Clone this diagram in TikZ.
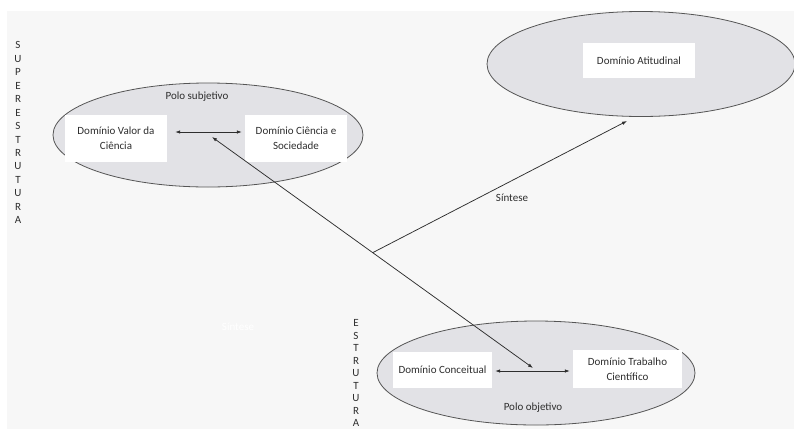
\documentclass[tikz,border=0pt]{standalone}
\usepackage{fontspec}
\setmainfont{Carlito}
\usetikzlibrary{shapes.geometric,arrows.meta}
\definecolor{pagebg}{HTML}{F7F7F7}
\definecolor{polefill}{HTML}{E2E2E6}
\definecolor{ink}{HTML}{2E2E2E}
\definecolor{rim}{HTML}{555555}
\tikzset{
  polebox/.style={ellipse, draw=rim, line width=0.8pt, fill=polefill, inner sep=0pt},
  domainbox/.style={fill=white, draw=none, align=center, inner sep=0pt,
    font=\fontsize{11}{15}\selectfont, text=ink},
  tagtext/.style={font=\fontsize{11}{13}\selectfont, text=ink, inner sep=0pt},
  linkline/.style={draw=ink, line width=0.75pt, {Latex[length=5pt,width=3.5pt]}-{Latex[length=5pt,width=3.5pt]}},
  flowline/.style={draw=ink, line width=0.75pt, -{Latex[length=5pt,width=3.5pt]}},
  vertcap/.style={align=center, inner sep=0pt, anchor=north, text=ink}
}
\begin{document}
\begin{tikzpicture}[x=1pt,y=-1pt]
\useasboundingbox (0,0) rectangle (794,429);
\fill[white] (0,0) rectangle (794,429);
\fill[pagebg] (7,11) rectangle (794,429);

% the three poles
\node[polebox, minimum width=310pt, minimum height=104pt] (subj) at (208,135) {};
\node[polebox, minimum width=308pt, minimum height=105pt] (atit) at (641,64) {};
\node[polebox, minimum width=318pt, minimum height=104pt] (obj) at (536,373) {};

% domains
\node[domainbox, minimum width=102pt, minimum height=47pt] (valor) at (116,138.5) {Domínio Valor da\\Ciência};
\node[domainbox, minimum width=102pt, minimum height=47pt] (socied) at (296,138.5) {Domínio Ciência e\\Sociedade};
\node[domainbox, minimum width=112pt, minimum height=35pt] (atitud) at (639,60.5) {Domínio Atitudinal};
\node[domainbox, minimum width=99pt, minimum height=36pt] (conc) at (442.5,370) {Domínio Conceitual};
\node[domainbox, minimum width=109pt, minimum height=38pt] (trab) at (627.5,369) {Domínio Trabalho\\Científico};

% pole titles
\node[tagtext] (tsubj) at (197,97) {Polo subjetivo};
\node[tagtext] (tobj) at (533,408) {Polo objetivo};
\node[tagtext] (tsint) at (512,198) {Síntese};
\node[tagtext, text=white] (tghost) at (238,327) {Síntese};

% vertical captions
\node[vertcap, font=\fontsize{11}{13.46}\selectfont] (super) at (18,41.5)
  {S\\U\\P\\E\\R\\E\\S\\T\\R\\U\\T\\U\\R\\A};
\node[vertcap, font=\fontsize{11}{12.5}\selectfont] (estr) at (356,319.5)
  {E\\S\\T\\R\\U\\T\\U\\R\\A};

% links inside the poles
\draw[linkline] ([xshift=8pt,yshift=6.5pt]valor.east) -- ([xshift=-3pt,yshift=6.5pt]socied.west);
\draw[linkline] ([xshift=3pt,yshift=-1pt]conc.east) -- ([xshift=-3pt,yshift=-2pt]trab.west);

% link between the two poles and the synthesis
\coordinate (upper) at (212,137);
\coordinate (lower) at (533,368);
\coordinate (fork) at (373,252.5);
\coordinate (goal) at (627,121);
\draw[linkline] (upper) -- (lower);
\draw[flowline] (fork) -- (goal);
\end{tikzpicture}
\end{document}
